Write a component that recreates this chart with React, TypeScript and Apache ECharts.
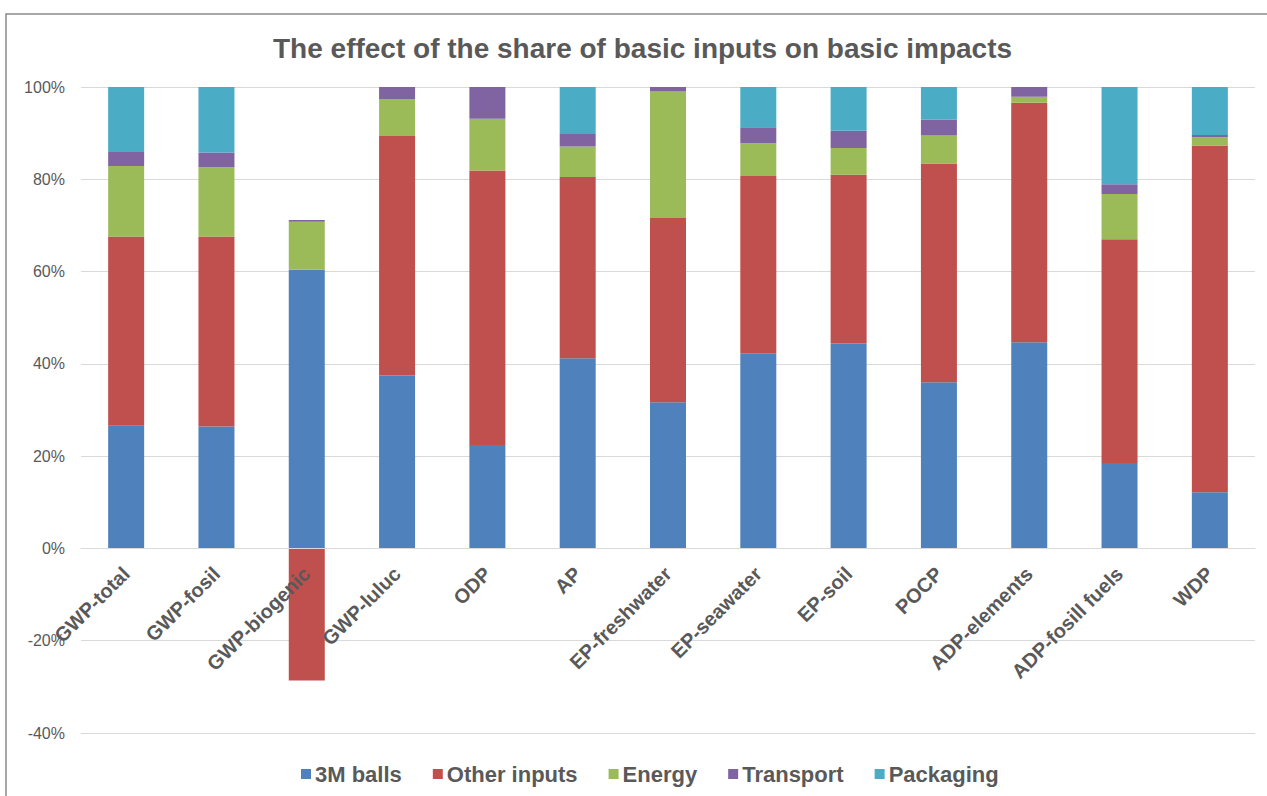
import React, { useEffect, useRef } from "react";
import * as echarts from "echarts";

const categories = [
  "GWP-total", "GWP-fosil", "GWP-biogenic", "GWP-luluc", "ODP", "AP",
  "EP-freshwater", "EP-seawater", "EP-soil", "POCP", "ADP-elements",
  "ADP-fosill fuels", "WDP",
];
const balls3M = [26.6, 26.4, 60.4, 37.5, 22.4, 41.2, 31.7, 42.3, 44.4, 36.0, 44.7, 18.5, 12.2];
const otherInputs = [41.0, 41.2, -28.6, 51.9, 59.5, 39.3, 39.9, 38.4, 36.6, 47.4, 51.9, 48.5, 75.1];
const energy = [15.3, 15.0, 10.4, 8.0, 11.2, 6.6, 27.4, 7.1, 5.8, 6.1, 1.3, 9.8, 1.8];
const transport = [3.0, 3.2, 0.4, 2.6, 6.9, 2.7, 1.0, 3.5, 3.7, 3.4, 2.1, 2.1, 0.5];
const packaging = [14.1, 14.2, 0, 0, 0, 10.2, 0, 8.7, 9.5, 7.1, 0, 21.1, 10.4];

const seriesDefs = [
  { name: "3M balls", data: balls3M, color: "#4f81bd" },
  { name: "Other inputs", data: otherInputs, color: "#c0504d" },
  { name: "Energy", data: energy, color: "#9bbb59" },
  { name: "Transport", data: transport, color: "#8064a2" },
  { name: "Packaging", data: packaging, color: "#4bacc6" },
];

export default function App() {
  const ref = useRef<HTMLDivElement>(null);
  useEffect(() => {
    if (!ref.current) return;
    const chart = echarts.init(ref.current, null, { renderer: "svg" });
    chart.setOption({
      animation: false,
      backgroundColor: "#ffffff",
      title: {
        text: "The effect of the share of basic inputs on basic impacts",
        left: 268,
        top: 29,
        textStyle: {
          fontFamily: "Liberation Sans",
          fontSize: 28,
          fontWeight: "bold",
          color: "#595959",
        },
      },
      graphic: [
        {
          type: "rect",
          shape: { x: 6, y: 14, width: 1400, height: 900 },
          style: { fill: "none", stroke: "#8a8a8a", lineWidth: 1.5 },
          silent: true,
        },
      ],
      legend: {
        top: 758,
        left: 296,
        itemWidth: 10,
        itemHeight: 10,
        itemGap: 31,
        icon: "rect",
        textStyle: {
          fontFamily: "Liberation Sans",
          fontSize: 22,
          fontWeight: "bold",
          color: "#595959",
          padding: [0, 0, 0, -1],
        },
        data: seriesDefs.map((s) => s.name),
      },
      grid: {
        left: 81,
        right: 12,
        top: 87,
        bottom: 63,
        containLabel: false,
        outerBoundsMode: "none",
      },
      xAxis: {
        type: "category",
        data: categories,
        position: "bottom",
        offset: -184.6,
        z: 10,
        axisLine: { onZero: false, lineStyle: { color: "#d9d9d9", width: 1 } },
        axisTick: { show: false },
        axisLabel: {
          rotate: 45,
          interval: 0,
          margin: 22,
          fontFamily: "Liberation Sans",
          fontSize: 20,
          fontWeight: "bold",
          color: "#595959",
        },
      },
      yAxis: {
        type: "value",
        min: -40,
        max: 100,
        interval: 20,
        axisLine: { show: false },
        axisTick: { show: false },
        splitLine: { lineStyle: { color: "#d9d9d9", width: 1 } },
        axisLabel: {
          formatter: "{value}%",
          margin: 16,
          fontFamily: "Liberation Sans",
          fontSize: 16,
          color: "#595959",
        },
      },
      series: seriesDefs.map((s) => ({
        name: s.name,
        type: "bar",
        stack: "total",
        barWidth: 36,
        data: s.data,
        itemStyle: { color: s.color },
      })),
    });
    return () => chart.dispose();
  }, []);
  return (
    <div
      ref={ref}
      style={{ position: "fixed", left: 0, top: 0, width: 1267, height: 796 }}
    />
  );
}
